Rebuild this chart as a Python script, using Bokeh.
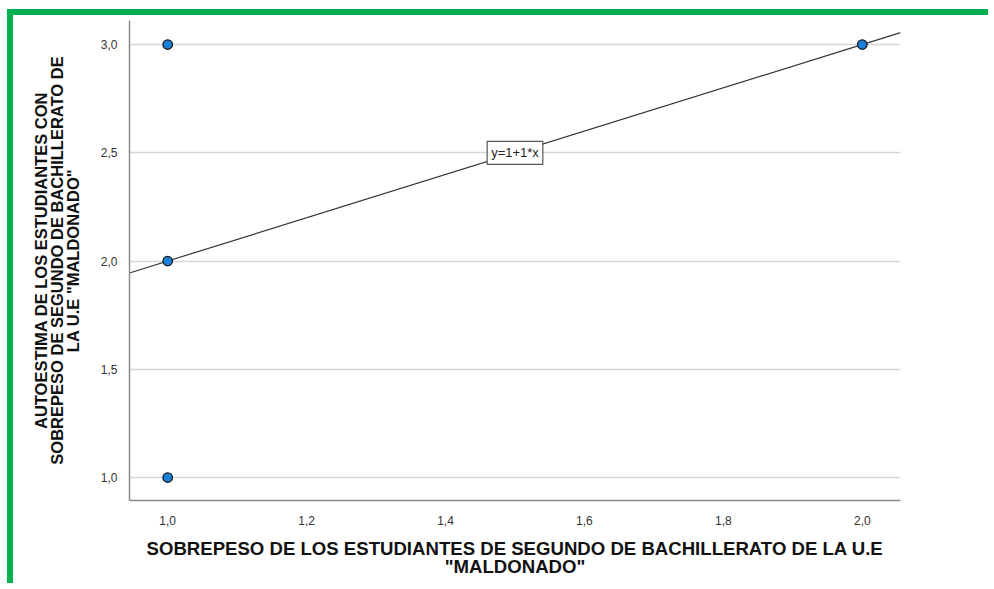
from bokeh.plotting import figure
from bokeh.models import FixedTicker, Label, Range1d
from bokeh.embed import file_html
from bokeh.resources import INLINE
import numpy as np

# data
sobrepeso = [1.0, 1.0, 1.0, 2.0]
autoestima = [3.0, 2.0, 1.0, 3.0]
x_ticks = [1.0, 1.2, 1.4, 1.6, 1.8, 2.0]
x_tick_labels = ["1,0", "1,2", "1,4", "1,6", "1,8", "2,0"]
y_ticks = [1.0, 1.5, 2.0, 2.5, 3.0]
y_tick_labels = ["1,0", "1,5", "2,0", "2,5", "3,0"]
eq_text = "y=1+1*x"
r2_text = "R² Lineal = 0,514"

FONT = "Liberation Sans"

p = figure(width=981, height=574, output_backend="svg", toolbar_location=None,
           x_range=Range1d(0.945, 2.055), y_range=Range1d(0.894, 3.111),
           min_border_left=116, min_border_right=94, min_border_top=5, min_border_bottom=89,
           styles={"border-top": "6px solid #00b050", "border-left": "6px solid #00b050",
                   "margin-left": "7px", "margin-top": "9px"})
p.outline_line_color = None
p.background_fill_color = "white"

p.xgrid.visible = False
p.ygrid.grid_line_color = "#d6d6d6"
p.ygrid.grid_line_width = 1.5

for ax in (p.xaxis[0], p.yaxis[0]):
    ax.axis_line_color = "#8c8c8c"
    ax.axis_line_width = 1.5
    ax.major_tick_line_color = None
    ax.minor_tick_line_color = None
    ax.major_label_text_font = FONT
    ax.major_label_text_font_size = "12px"
    ax.major_label_text_color = "#333333"
    ax.axis_label_text_font = FONT
    ax.axis_label_text_font_style = "bold"
    ax.axis_label_text_color = "#111111"

p.xaxis.axis_label_text_font_size = "18.6px"
p.xaxis.axis_label_text_line_height = 0.88
p.yaxis.axis_label_text_font_size = "16.5px"
p.yaxis.axis_label_text_line_height = 0.88

p.xaxis.ticker = FixedTicker(ticks=x_ticks)
p.xaxis.major_label_overrides = dict(zip(x_ticks, x_tick_labels))
p.yaxis.ticker = FixedTicker(ticks=y_ticks)
p.yaxis.major_label_overrides = dict(zip(y_ticks, y_tick_labels))
p.xaxis.major_label_standoff = 9
p.yaxis.major_label_standoff = 6

p.xaxis.axis_label = 'SOBREPESO DE LOS ESTUDIANTES DE SEGUNDO DE BACHILLERATO DE LA U.E\n"MALDONADO"'
p.yaxis.axis_label = 'AUTOESTIMA DE LOS ESTUDIANTES CON\nSOBREPESO DE SEGUNDO DE BACHILLERATO DE\nLA U.E "MALDONADO"'
p.xaxis.axis_label_standoff = 10
p.yaxis.axis_label_standoff = 16

# regression line
slope, intercept = np.polyfit(sobrepeso, autoestima, 1)
xs = [p.x_range.start, p.x_range.end]
ys = [intercept + slope * v for v in xs]
p.line(xs, ys, line_color="#333333", line_width=1.2)

p.scatter(sobrepeso, autoestima, size=9.5, fill_color="#1a7fd6", line_color="#1a1a1a", line_width=1.3)

p.add_layout(Label(x=1.5, y=intercept + slope * 1.5, text=eq_text, text_align="center",
                   text_baseline="middle", text_font=FONT, text_font_size="13px",
                   text_color="#222222", background_fill_color="white",
                   border_line_color="#555555", border_line_width=1.2,
                   padding=4))
p.add_layout(Label(x=p.x_range.end, y=intercept + slope * p.x_range.end, x_offset=2, y_offset=-6,
                   text=r2_text, text_align="left", text_baseline="bottom",
                   text_font=FONT, text_font_size="12px", text_color="#222222"))

open("out.html", "w").write(file_html(p, INLINE))
